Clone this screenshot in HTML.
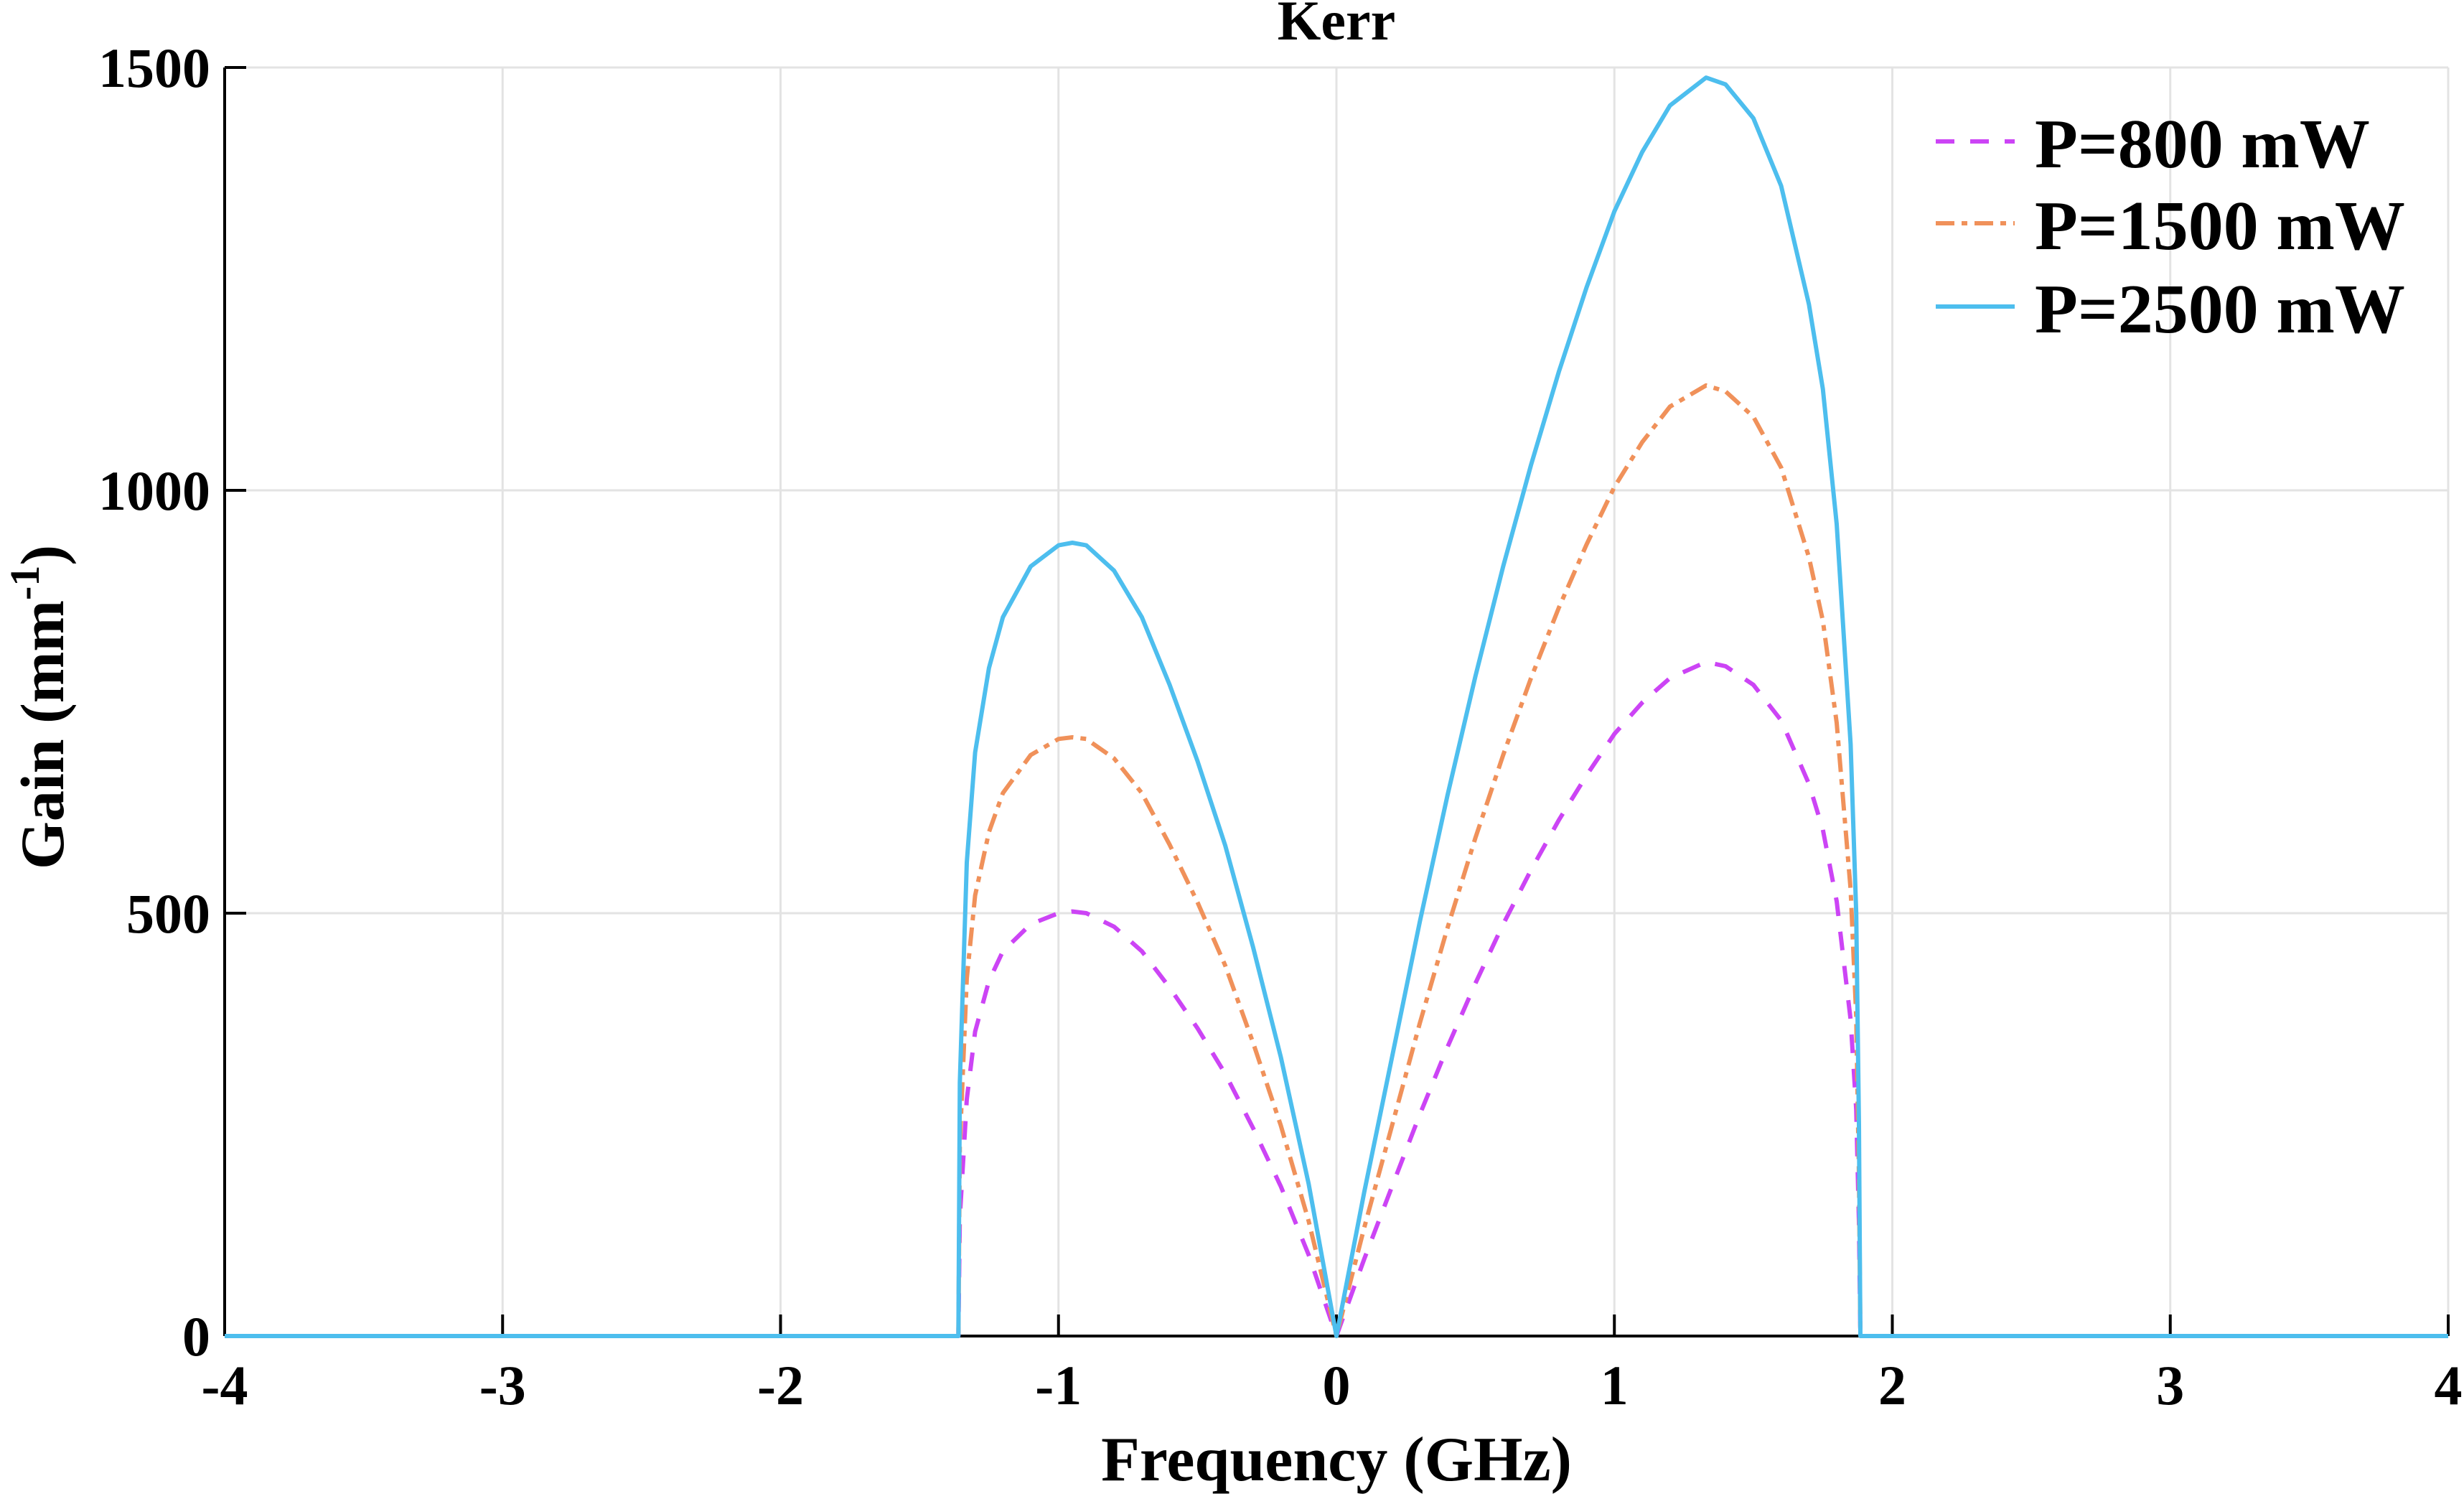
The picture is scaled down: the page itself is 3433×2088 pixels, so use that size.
<!DOCTYPE html>
<html><head><meta charset="utf-8"><style>
html,body{margin:0;padding:0;background:#fff;}
svg{display:block;}
text{font-family:"Liberation Serif",serif;font-weight:bold;fill:#000;}
</style></head><body>
<svg id="chart" width="3433" height="2088" viewBox="0 0 3433 2088" xmlns="http://www.w3.org/2000/svg">
<g id="grid"></g>
<g id="axes"></g>
<g id="series"></g>
<text x="1862" y="55" font-size="78" text-anchor="middle">Kerr</text>
<text x="1862" y="2062" font-size="88" text-anchor="middle">Frequency (GHz)</text>
<text transform="translate(88,985) rotate(-90)" font-size="86" text-anchor="middle">Gain (mm<tspan font-size="58" dy="-34">-1</tspan><tspan dy="34">)</tspan></text>
<g id="legend"></g>
</svg>
<script>
const xTicks = [-4,-3,-2,-1,0,1,2,3,4];
const yTicks = [0,500,1000,1500];
const freq = [-4,-1.36,-1.355,-1.33,-1.30,-1.25,-1.2,-1.1,-1.0,-0.95,-0.9,-0.8,-0.7,-0.6,-0.5,-0.4,-0.3,-0.2,-0.1,0,0.1,0.2,0.3,0.4,0.5,0.6,0.7,0.8,0.9,1.0,1.1,1.2,1.33,1.4,1.5,1.6,1.7,1.75,1.8,1.85,1.87,1.88,1.885,4];
const gain2500 = [0,0,300,560,690,790,850,910,935,938,935,905,850,770,680,580,460,330,180,0,170,330,490,640,780,910,1030,1140,1240,1330,1400,1455,1488,1480,1440,1360,1220,1120,960,700,500,250,0,0];
const gain1500 = [0,0,226,423,521,596,642,687,706,708,706,683,642,581,513,438,347,249,136,0,128,249,370,483,589,687,778,861,936,1004,1057,1099,1124,1117,1087,1027,921,846,725,528,378,189,0,0];
const gain800 = [0,0,140,280,360,420,455,487,500,502,500,484,455,412,364,310,246,177,96,0,91,177,262,342,417,487,551,610,663,712,749,778,797,792,770,728,653,599,514,374,268,134,0,0];
const seriesNames = ["P=800 mW","P=1500 mW","P=2500 mW"];

const L=313,R=3411,T=94,B=1861;
const xs=v=>L+(v+4)/8*(R-L);
const ys=v=>B-v/1500*(B-T);
const NS="http://www.w3.org/2000/svg";
function mk(tag,attrs,parent){const e=document.createElementNS(NS,tag);for(const k in attrs)e.setAttribute(k,attrs[k]);parent.appendChild(e);return e;}
const grid=document.getElementById('grid'),axes=document.getElementById('axes'),ser=document.getElementById('series'),leg=document.getElementById('legend');
xTicks.forEach(t=>{
  const g=mk('line',{x1:xs(t),x2:xs(t),y1:T,y2:B,stroke:'#e3e3e3','stroke-width':3},grid);
  
  
  const tk=mk('line',{x1:xs(t),x2:xs(t),y1:B,y2:B-30,stroke:'#000','stroke-width':4},axes);
  
  
  const lb=mk('text',{x:xs(t),y:B+95,'font-size':78,'text-anchor':'middle'},axes);
  lb.textContent=t;
  
  
});
yTicks.forEach(t=>{
  const g=mk('line',{x1:L,x2:R,y1:ys(t),y2:ys(t),stroke:'#e3e3e3','stroke-width':3},grid);
  
  
  const tk=mk('line',{x1:L,x2:L+30,y1:ys(t),y2:ys(t),stroke:'#000','stroke-width':4},axes);
  
  
  const lb=mk('text',{x:L-20,y:ys(t)+27,'font-size':78,'text-anchor':'end'},axes);
  lb.textContent=t;
  
  
});
const ax1=mk('line',{x1:L,x2:L,y1:T,y2:B,stroke:'#000','stroke-width':4},axes);


const ax2=mk('line',{x1:L,x2:R,y1:B,y2:B,stroke:'#000','stroke-width':4},axes);



const styles=[
  {data:gain800,color:'#CC44F5',dash:'26 22'},
  {data:gain1500,color:'#F0915A',dash:'26 10 8 10'},
  {data:gain2500,color:'#4DBEEE',dash:'none'}
];
styles.forEach((s,i)=>{
  const d=freq.map((f,j)=>(j?'L':'M')+xs(f).toFixed(1)+','+ys(s.data[j]).toFixed(1)).join(' ');
  const p=mk('path',{d:d,fill:'none',stroke:s.color,'stroke-width':6,'stroke-dasharray':s.dash,'stroke-linejoin':'round'},ser);
  
  
  const ly=[197,311,427][i];
  const ll=mk('line',{x1:2697,x2:2807,y1:ly,y2:ly,stroke:s.color,'stroke-width':6,'stroke-dasharray':s.dash},leg);
  
  
  const lt=mk('text',{x:2835,y:ly+36,'font-size':98},leg);
  lt.textContent=seriesNames[i];
  
  
});
</script>
</body></html>
